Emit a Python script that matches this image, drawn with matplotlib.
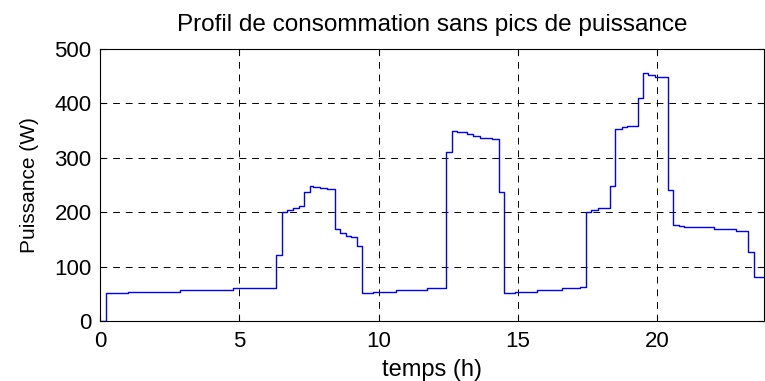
import matplotlib.pyplot as plt

plt.rcParams['font.family'] = ['Liberation Sans', 'DejaVu Sans']

# instants de changement (h) et puissance (W)
temps = [0.0, 0.2, 1.0, 2.86, 4.78, 6.3, 6.52, 6.7, 6.94, 7.14, 7.32, 7.54, 7.66,
         7.9, 8.14, 8.44, 8.62, 8.82, 9.0, 9.23, 9.42, 9.78, 10.64, 11.72, 12.4,
         12.62, 12.8, 13.16, 13.4, 13.64, 14.06, 14.32, 14.5, 14.9, 15.67, 16.57,
         17.22, 17.43, 17.62, 17.88, 18.3, 18.5, 18.72, 18.9, 19.3, 19.5, 19.66,
         19.92, 20.37, 20.57, 20.79, 20.97, 22.04, 22.82, 23.27, 23.48]
puissance = [0, 51, 54, 57, 60, 121, 201, 204, 207, 211, 237, 249, 247,
             245, 242, 169, 161, 157, 154, 137, 51, 54, 57, 60, 310,
             350, 347, 343, 340, 337, 334, 237, 51, 54, 57, 60,
             63, 201, 204, 208, 249, 353, 356, 359, 410, 456, 453,
             448, 240, 177, 174, 172, 170, 166, 126, 80]
t_fin = 23.83

t = temps + [t_fin]
p = puissance + [puissance[-1]]

fig = plt.figure(figsize=(7.65, 3.81), dpi=100)
ax = fig.add_axes([0.1307, 0.1575, 0.868, 0.714])

ax.step(t, p, where='post', color='#0000ff', linewidth=1)

ax.set_xlim(0, t_fin)
ax.set_ylim(0, 500)
ax.set_xticks([0, 5, 10, 15, 20])
ax.set_yticks([0, 100, 200, 300, 400, 500])
ax.grid(True, color='black', linestyle=(0, (7, 6)), linewidth=0.7)
ax.tick_params(direction='in', top=True, right=True, labelsize=16, length=4)
ax.tick_params(axis='x', pad=7)
ax.tick_params(axis='y', pad=6)

ax.set_xlabel('temps (h)', fontsize=17, labelpad=5)
ax.set_ylabel('Puissance (W)', fontsize=15, labelpad=11)
ax.set_title('Profil de consommation sans pics de puissance', fontsize=17.5, pad=13)

fig.savefig('out.png', dpi=100)
